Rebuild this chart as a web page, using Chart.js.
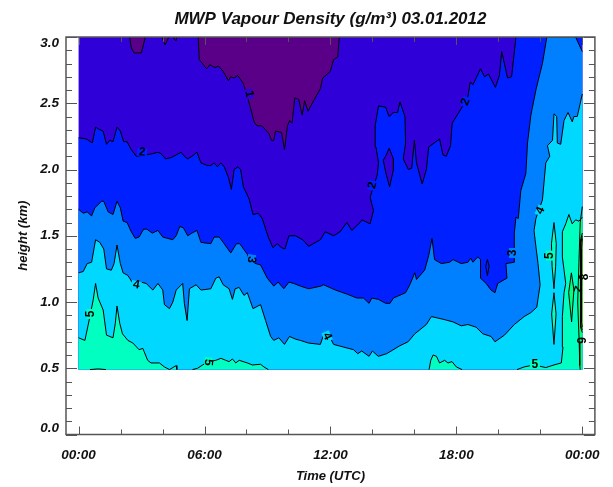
<!DOCTYPE html>
<html>
<head>
<meta charset="utf-8">
<title>MWP Vapour Density</title>
<script src="https://cdn.jsdelivr.net/npm/chart.js@4"></script>
<style>
    html, body { margin: 0; padding: 0; background: #fff; }
    canvas { display: block; }
</style>
</head>
<body>
<canvas id="chart" width="613" height="487"></canvas>
<script>
// tick values, hours UTC and km
const hourTicks = [0, 2, 4, 6, 8, 10, 12, 14, 16, 18, 20, 22, 24];
const hourMajor = [0, 6, 12, 18, 24];
const hourLabels = ['00:00', '06:00', '12:00', '18:00', '00:00'];
const kmTicks = [0, 0.1, 0.2, 0.3, 0.4, 0.5, 0.6, 0.7, 0.8, 0.9, 1, 1.1, 1.2, 1.3, 1.4, 1.5, 1.6, 1.7, 1.8, 1.9, 2, 2.1, 2.2, 2.3, 2.4, 2.5, 2.6, 2.7, 2.8, 2.9, 3];
const kmMajor = [0, 0.5, 1, 1.5, 2, 2.5, 3];

// contour lines, [hour, km]
const dataExtent = [[0, 0.49], [24, 0.49], [24, 3], [0, 3]];
const contour1 = [[5.7, 3], [5.75, 2.83], [6.1, 2.76], [6.25, 2.79], [6.5, 2.77], [6.67, 2.78], [6.89, 2.74], [7.14, 2.67], [7.25, 2.7], [7.41, 2.69], [7.58, 2.71], [7.85, 2.65], [8.04, 2.55], [8.2, 2.46], [8.36, 2.36], [8.5, 2.33], [8.72, 2.33], [8.91, 2.3], [9.07, 2.27], [9.19, 2.22], [9.3, 2.22], [9.38, 2.29], [9.67, 2.28], [9.81, 2.15], [9.95, 2.33], [10.06, 2.37], [10.17, 2.35], [10.3, 2.54], [10.49, 2.53], [10.65, 2.41], [10.77, 2.52], [10.93, 2.44], [11.2, 2.52], [11.52, 2.61], [11.63, 2.69], [11.99, 2.74], [12.15, 2.83], [12.35, 2.85], [12.42, 3]];
const contour1b = [[2.43, 3], [2.51, 2.92], [2.64, 2.88], [2.99, 2.88], [3.18, 3]];
const contour1c = [[3.97, 3], [4.12, 2.94], [4.3, 3]];
const contour1d = [[4.49, 3], [4.64, 2.97], [4.69, 3]];
const contour2 = [[0, 2.24], [0.38, 2.23], [0.65, 2.2], [0.81, 2.32], [1.01, 2.3], [1.17, 2.29], [1.33, 2.19], [1.48, 2.22], [1.64, 2.21], [1.83, 2.32], [1.99, 2.29], [2.15, 2.21], [2.31, 2.21], [2.51, 2.15], [2.75, 2.1], [3.22, 2.11], [3.54, 2.12], [3.77, 2.13], [3.93, 2.12], [4.14, 2.08], [4.41, 2.09], [4.65, 2.11], [4.88, 2.13], [5.04, 2.1], [5.2, 2.08], [5.4, 2.1], [5.64, 2.13], [5.83, 2.05], [6.15, 2.03], [6.3, 2.03], [6.46, 2.05], [6.62, 2.02], [6.78, 2.05], [6.94, 2.02], [7.14, 1.94], [7.28, 1.85], [7.41, 2], [7.58, 2.02], [7.72, 2], [7.85, 1.87], [8.12, 1.78], [8.31, 1.66], [8.56, 1.67], [8.75, 1.63], [9.04, 1.49], [9.26, 1.41], [9.46, 1.44], [9.67, 1.41], [9.83, 1.4], [10.02, 1.5], [10.33, 1.5], [10.68, 1.47], [10.96, 1.42], [11.52, 1.47], [11.75, 1.53], [12.15, 1.5], [12.46, 1.53], [12.78, 1.6], [13.02, 1.54], [13.41, 1.6], [13.5, 1.62], [13.89, 1.59], [14.05, 1.69], [13.89, 1.79], [14.23, 1.96], [14.29, 2.05], [14.17, 2.17], [14.13, 2.33], [14.29, 2.48], [14.63, 2.47], [14.79, 2.4], [15, 2.43], [15.2, 2.43], [15.31, 2.51], [15.55, 2.4], [15.58, 2.2], [15.47, 2.08], [15.71, 2], [15.87, 2.01], [16, 2.22], [16.1, 2.05], [16.37, 1.89], [16.57, 2], [16.68, 2.17], [17.2, 2.23], [17.36, 2.11], [17.52, 2.1], [17.72, 2.18], [17.8, 2.35], [18.23, 2.46], [18.55, 2.55], [18.66, 2.66], [18.79, 2.64], [19.15, 2.76], [19.34, 2.7], [19.53, 2.72], [19.86, 2.62], [20.05, 2.71], [20.16, 2.89], [20.44, 2.69], [20.63, 2.7], [20.84, 3]];
const contour2Lens = [[14.8, 2.16], [15, 2.08], [15, 2], [14.82, 1.87], [14.63, 1.98], [14.52, 2.07], [14.63, 2.1], [14.8, 2.16]];
const contour3 = [[0, 1.7], [0.22, 1.67], [0.41, 1.68], [0.62, 1.65], [0.77, 1.71], [1.09, 1.76], [1.2, 1.76], [1.41, 1.68], [1.64, 1.66], [1.83, 1.76], [1.99, 1.71], [2.12, 1.61], [2.31, 1.6], [2.51, 1.53], [2.7, 1.48], [2.88, 1.49], [3.1, 1.55], [3.25, 1.55], [3.51, 1.52], [3.78, 1.54], [4.01, 1.49], [4.49, 1.47], [4.65, 1.5], [4.82, 1.57], [4.99, 1.56], [5.2, 1.5], [5.4, 1.52], [5.64, 1.54], [5.83, 1.45], [6.3, 1.44], [6.46, 1.49], [6.7, 1.49], [6.89, 1.45], [7.25, 1.37], [7.52, 1.44], [7.68, 1.44], [8.04, 1.36], [8.2, 1.3], [8.67, 1.28], [8.99, 1.18], [9.3, 1.12], [9.51, 1.15], [9.78, 1.1], [10.02, 1.15], [10.25, 1.14], [10.57, 1.12], [10.96, 1.1], [11.55, 1.12], [11.67, 1.13], [12.24, 1.09], [12.78, 1.06], [13.26, 1.03], [13.57, 1.03], [13.84, 0.99], [13.97, 1.03], [14.28, 1.02], [14.63, 0.99], [14.84, 0.99], [15, 1.03], [15.58, 1.07], [15.78, 1.13], [16.02, 1.22], [16.1, 1.17], [16.49, 1.24], [16.68, 1.35], [16.84, 1.48], [16.96, 1.32], [17.28, 1.29], [17.68, 1.3], [17.84, 1.32], [18.23, 1.29], [18.55, 1.3], [18.68, 1.33], [18.79, 1.3], [19.02, 1.34], [19.15, 1.32], [19.15, 1.18], [19.42, 1.14], [19.65, 1.09], [19.84, 1.07], [19.97, 1.14], [20.41, 1.18], [20.36, 1.29], [20.76, 1.3], [20.76, 1.52], [20.84, 1.64], [20.95, 1.63], [21.07, 1.84], [21.31, 1.97], [21.39, 2.2], [21.55, 2.41], [21.79, 2.6], [22.1, 2.8], [22.31, 3], [23.68, 3], [24, 2.89]];
const contour3Lens = [[19.48, 1.32], [19.56, 1.27], [19.48, 1.2], [19.4, 1.27], [19.48, 1.32]];
const contour4 = [[0, 1.22], [0.22, 1.23], [0.41, 1.29], [0.62, 1.3], [0.81, 1.47], [1.01, 1.45], [1.2, 1.4], [1.33, 1.25], [1.56, 1.24], [1.69, 1.29], [1.83, 1.43], [1.99, 1.29], [2.12, 1.22], [2.35, 1.2], [2.59, 1.14], [2.98, 1.15], [3.22, 1.14], [3.54, 1.09], [3.78, 1.14], [4.01, 1.09], [4.09, 0.98], [4.33, 0.95], [4.49, 1], [4.65, 1.09], [4.96, 1.14], [5.04, 0.99], [5.17, 0.86], [5.28, 1.1], [5.6, 1.13], [5.83, 1.09], [6.3, 1.1], [6.54, 1.18], [6.7, 1.19], [6.89, 1.13], [7.17, 1.1], [7.33, 1.02], [7.46, 1.1], [7.65, 1.11], [7.88, 1.05], [8.04, 1.07], [8.31, 0.95], [8.67, 0.98], [8.91, 0.86], [9.15, 0.74], [9.3, 0.71], [9.54, 0.73], [9.81, 0.68], [10.05, 0.74], [10.33, 0.72], [10.57, 0.71], [10.96, 0.69], [11.52, 0.68], [11.67, 0.75], [11.99, 0.73], [12.15, 0.68], [12.62, 0.66], [13.1, 0.64], [13.3, 0.61], [13.49, 0.63], [13.84, 0.59], [14, 0.63], [14.28, 0.59], [14.68, 0.61], [15.31, 0.67], [15.7, 0.7], [16.02, 0.76], [16.57, 0.83], [16.81, 0.89], [17.36, 0.87], [17.84, 0.85], [18.23, 0.82], [18.55, 0.83], [18.94, 0.81], [19.26, 0.76], [19.65, 0.74], [19.84, 0.7], [20.29, 0.75], [20.76, 0.83], [21.23, 0.89], [21.55, 0.92], [21.83, 0.96], [21.99, 1.13], [21.89, 1.29], [21.75, 1.47], [21.7, 1.54], [21.79, 1.63], [22.1, 1.77], [22.26, 2.05], [22.45, 2.1], [22.34, 2.18], [22.58, 2.22], [22.65, 2.42], [22.78, 2.4], [22.81, 2.2], [22.97, 2.19], [23.13, 2.37], [23.32, 2.43], [23.52, 2.36], [23.6, 2.4], [23.76, 2.4], [24, 2.57]];
const contour5a = [[0, 0.73], [0.3, 0.71], [0.54, 0.89], [0.7, 1.02], [0.81, 1.14], [0.93, 1.03], [1.17, 0.94], [1.33, 0.75], [1.64, 0.73], [1.75, 0.84], [1.83, 0.97], [1.96, 0.84], [2.09, 0.76], [2.35, 0.71], [2.59, 0.69], [2.88, 0.64], [3.06, 0.65], [3.29, 0.56], [3.45, 0.54], [3.85, 0.54], [4.09, 0.51], [4.33, 0.49], [4.65, 0.52], [4.68, 0.49]];
const contour5b = [[5.43, 0.49], [5.67, 0.5], [5.91, 0.525], [6.22, 0.55], [6.54, 0.56], [6.78, 0.575], [7.01, 0.56], [7.17, 0.55], [7.33, 0.57], [7.49, 0.54], [7.65, 0.56], [8.04, 0.54], [8.28, 0.525], [8.67, 0.53], [8.83, 0.51], [9.04, 0.49]];
const contour5c = [[16.7, 0.49], [16.78, 0.56], [16.89, 0.6], [17.05, 0.59], [17.2, 0.54], [17.44, 0.56], [17.6, 0.54], [17.79, 0.55], [18, 0.51], [18.27, 0.49]];
const contour5d = [[20.89, 0.49], [21.23, 0.51], [21.7, 0.525], [22.26, 0.505], [22.65, 0.525], [23, 0.54], [23.08, 0.66], [23.05, 0.89], [23.13, 1.07], [23.21, 1.14], [23.05, 1.34], [23.05, 1.53], [23.21, 1.59], [23.36, 1.66], [23.52, 1.59], [23.68, 1.62], [23.84, 1.61], [24, 1.64]];
const contour5e = [[0.54, 0.49], [0.93, 0.495], [1.3, 0.49]];
const contour5Lens1 = [[22.65, 1.6], [22.76, 1.44], [22.73, 1.27], [22.65, 1.1], [22.56, 1.27], [22.53, 1.44], [22.65, 1.6]];
const contour5Lens2 = [[22.65, 1.07], [22.75, 0.91], [22.65, 0.68], [22.54, 0.91], [22.65, 1.07]];
const contour5Lens3 = [[23.48, 1.22], [23.6, 1.09], [23.49, 0.85], [23.35, 1.07], [23.48, 1.22]];
const contour6 = [[24, 1.72], [23.9, 1.6], [23.84, 1.3], [23.78, 1], [23.85, 0.7], [23.88, 0.52], [23.9, 0.49]];
const contour7 = [[24, 1.52], [23.92, 1.47], [23.91, 1], [23.92, 0.81], [24, 0.77]];
const contour8 = [[24, 1.5], [23.94, 1.45], [23.93, 1], [23.94, 0.82], [24, 0.79]];
const contour9 = [[24, 1.48], [23.97, 1.4], [23.96, 1], [23.97, 0.85], [24, 0.81]];

// contour labels
const labelText = ['1', '2', '2', '2', '3', '3', '4', '4', '4', '5', '5', '5', '5', '7', '8', '9'];
const labelHour = [8.12, 3.03, 18.44, 14, 8.23, 20.7, 2.75, 11.84, 22, 0.57, 6.18, 21.74, 22.45, 23.83, 24.09, 24];
const labelKm = [2.57, 2.13, 2.51, 1.88, 1.32, 1.37, 1.13, 0.74, 1.69, 0.91, 0.545, 0.53, 1.35, 1.09, 1.19, 0.71];
const labelAngle = [80, 5, -70, -75, 100, -90, 10, 65, -65, -90, 95, 0, -90, -70, -90, -90];

const TICK_FONT = 'Liberation Sans';
const AXIS_COLOR = '#555';

// colour of the band above each contour value
const levelColor = {
    0: '#5a0088',
    1: '#3000d8',
    2: '#0020ff',
    3: '#0080ff',
    4: '#00d8ff',
    5: '#00ffc0',
    6: '#00ff80',
    7: '#40ff00',
    8: '#80ff00',
    9: '#c0ff00'
};

let makeLayer = (points, closure, level, stroke) => ({ points, closure, color: levelColor[level], stroke });

// painted from back to front
const layers = [
    makeLayer(dataExtent, [], 1, false),
    makeLayer(contour1, [], 0, true),
    makeLayer(contour1b, [], 0, true),
    makeLayer(contour1c, [], 0, true),
    makeLayer(contour1d, [], 0, true),
    makeLayer(contour2, [[24, 3], [24, 0.49], [0, 0.49]], 2, true),
    makeLayer(contour2Lens, [], 1, true),
    makeLayer(contour3, [[24, 0.49], [0, 0.49]], 3, true),
    makeLayer(contour3Lens, [], 2, true),
    makeLayer(contour4, [[24, 0.49], [0, 0.49]], 4, true),
    makeLayer(contour5a, [[0, 0.49]], 5, true),
    makeLayer(contour5b, [], 5, true),
    makeLayer(contour5c, [], 5, true),
    makeLayer(contour5d, [[24, 0.49]], 5, true),
    makeLayer(contour5e, [], 5, true),
    makeLayer(contour5Lens1, [], 5, true),
    makeLayer(contour5Lens2, [], 5, true),
    makeLayer(contour5Lens3, [], 6, true),
    makeLayer(contour6, [[24, 0.49]], 6, true),
    makeLayer(contour7, [], 7, true),
    makeLayer(contour8, [], 8, true),
    makeLayer(contour9, [], 9, true)
];

let toXY = (points) => points.map((p) => ({ x: p[0], y: p[1] }));

let buildDatasets = () => {
    let fills = layers.map((layer, i) => ({
        data: toXY(layer.points.concat(layer.closure)),
        fill: 'shape',
        backgroundColor: layer.color,
        borderWidth: 0,
        pointRadius: 0,
        order: 1000 - i
    }));
    let lines = layers.filter((layer) => layer.stroke).map((layer) => ({
        data: toXY(layer.points),
        fill: false,
        borderColor: '#000',
        borderWidth: 1,
        pointRadius: 0,
        order: 0
    }));
    return fills.concat(lines);
};

// IDL style box round the plot with the ticks pointing inward
const idlFrame = {
    id: 'idlFrame',
    afterDatasetsDraw(chart) {
        const { ctx, chartArea: area, scales: { x, y } } = chart;
        ctx.save();
        ctx.strokeStyle = AXIS_COLOR;
        ctx.lineWidth = 1;
        ctx.beginPath();
        for (let h of hourTicks) {
            let px = Math.round(x.getPixelForValue(h)) + 0.5;
            let len = hourMajor.includes(h) ? 8 : 5;
            ctx.moveTo(px, area.bottom);
            ctx.lineTo(px, area.bottom - len);
            ctx.moveTo(px, area.top);
            ctx.lineTo(px, area.top + len);
        }
        for (let km of kmTicks) {
            let py = Math.round(y.getPixelForValue(km)) + 0.5;
            let len = kmMajor.includes(km) ? 11 : 6;
            ctx.moveTo(area.left, py);
            ctx.lineTo(area.left + len, py);
            ctx.moveTo(area.right, py);
            ctx.lineTo(area.right - len, py);
        }
        ctx.stroke();
        ctx.lineWidth = 1.5;
        ctx.strokeRect(area.left, area.top, area.right - area.left, area.bottom - area.top);
        ctx.restore();
    }
};

// the contour is broken under its label, the band colour runs through the gap
const contourLabels = {
    id: 'contourLabels',
    afterDatasetsDraw(chart) {
        const { ctx, scales: { x, y } } = chart;
        ctx.save();
        ctx.font = 'bold 12px "Liberation Sans"';
        ctx.textAlign = 'center';
        ctx.textBaseline = 'middle';
        labelText.forEach((text, i) => {
            ctx.save();
            ctx.translate(x.getPixelForValue(labelHour[i]), y.getPixelForValue(labelKm[i]));
            ctx.rotate(labelAngle[i] * Math.PI / 180);
            // the packed lines at the right edge have no gap
            if (Number(text) < 6) {
                ctx.fillStyle = levelColor[text];
                ctx.fillRect(-5, -4, 10, 8);
            }
            ctx.fillStyle = '#000';
            ctx.fillText(text, 0, 0);
            ctx.restore();
        });
        ctx.restore();
    }
};

new Chart(document.getElementById('chart'), {
    type: 'line',
    data: { datasets: buildDatasets() },
    plugins: [idlFrame, contourLabels],
    options: {
        responsive: false,
        animation: false,
        events: [],
        layout: { padding: { right: 15.3 } },
        plugins: {
            legend: { display: false },
            tooltip: { enabled: false },
            title: {
                display: true,
                text: 'MWP Vapour Density (g/m³) 03.01.2012',
                fullSize: false,
                color: '#111',
                font: { family: TICK_FONT, size: 17, style: 'italic', weight: 'bold', lineHeight: 1.2 },
                padding: { top: 9, bottom: 7.6 }
            }
        },
        scales: {
            x: {
                type: 'linear',
                min: -0.6,
                max: 24.6,
                afterFit: (scale) => { scale.height = 52.5; },
                afterBuildTicks: (scale) => { scale.ticks = hourTicks.map((value) => ({ value })); },
                grid: { display: false, drawTicks: false },
                border: { display: false },
                ticks: {
                    color: '#111',
                    autoSkip: false,
                    maxRotation: 0,
                    padding: 13,
                    font: { family: TICK_FONT, size: 13.5, style: 'italic', weight: 'bold' },
                    callback: (value) => {
                        let i = hourMajor.indexOf(value);
                        return i >= 0 ? hourLabels[i] : '';
                    }
                },
                title: {
                    display: true,
                    text: 'Time (UTC)',
                    color: '#111',
                    padding: 3,
                    font: { family: TICK_FONT, size: 13, style: 'italic', weight: 'bold' }
                }
            },
            y: {
                min: 0,
                max: 3,
                afterFit: (scale) => { scale.width = 66; },
                afterBuildTicks: (scale) => { scale.ticks = kmTicks.map((value) => ({ value })); },
                grid: { display: false, drawTicks: false },
                border: { display: false },
                ticks: {
                    color: '#111',
                    autoSkip: false,
                    padding: 7,
                    font: { family: TICK_FONT, size: 13.5, style: 'italic', weight: 'bold', lineHeight: 0.9 },
                    callback: (value) => {
                        if (!kmMajor.includes(value)) {
                            return '';
                        }
                        let text = value.toFixed(1);
                        // end labels stay inside the box, an empty line pushes them in
                        if (value === 3) {
                            return ['', text];
                        }
                        return value === 0 ? [text, ''] : text;
                    }
                },
                title: {
                    display: true,
                    text: 'height (km)',
                    color: '#111',
                    padding: 16,
                    font: { family: TICK_FONT, size: 13, style: 'italic', weight: 'bold' }
                }
            }
        }
    }
});
</script>
</body>
</html>
